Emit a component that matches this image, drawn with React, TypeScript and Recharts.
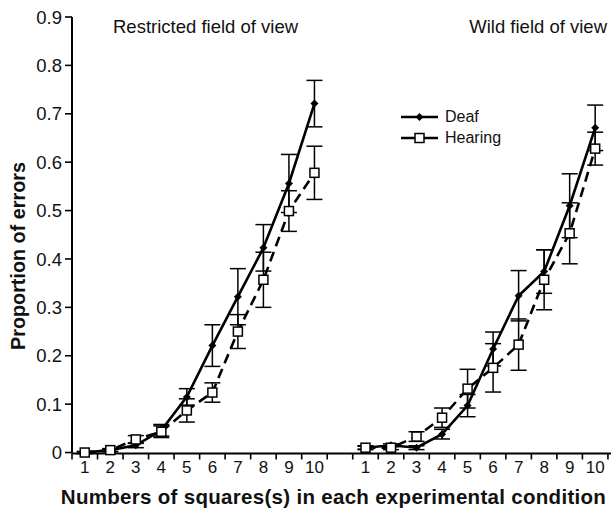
import React from "react";
import { LineChart, Line, XAxis, YAxis, ErrorBar } from "recharts";

// x positions on one shared axis: left panel 1-10, right panel 12-21
const restrictedX = [1, 2, 3, 4, 5, 6, 7, 8, 9, 10];
const wildX = [12, 13, 14, 15, 16, 17, 18, 19, 20, 21];
const squareLabels = ["1", "2", "3", "4", "5", "6", "7", "8", "9", "10"];

const restrictedDeaf = [0, 0.005, 0.015, 0.046, 0.115, 0.221, 0.322, 0.423, 0.556, 0.721];
const restrictedDeafErr = [0.002, 0.003, 0.005, 0.012, 0.017, 0.043, 0.058, 0.048, 0.06, 0.048];
const restrictedHearing = [0, 0.005, 0.027, 0.043, 0.087, 0.124, 0.25, 0.357, 0.499, 0.578];
const restrictedHearingErr = [0.002, 0.003, 0.008, 0.012, 0.024, 0.02, 0.035, 0.057, 0.042, 0.055];

const wildDeaf = [0.01, 0.015, 0.01, 0.038, 0.097, 0.214, 0.324, 0.374, 0.51, 0.671];
const wildDeafErr = [0.003, 0.003, 0.004, 0.01, 0.023, 0.035, 0.052, 0.045, 0.066, 0.047];
const wildHearing = [0.01, 0.01, 0.033, 0.072, 0.132, 0.175, 0.223, 0.357, 0.453, 0.628];
const wildHearingErr = [0.004, 0.004, 0.01, 0.02, 0.04, 0.05, 0.053, 0.062, 0.063, 0.034];

const yTicks = [0, 0.1, 0.2, 0.3, 0.4, 0.5, 0.6, 0.7, 0.8, 0.9];

const toRows = (xs: number[], ys: number[], errs: number[]) =>
  xs.map((x, i) => ({ x, y: ys[i], err: errs[i] }));

const labelAt: { [key: number]: string } = {};
restrictedX.forEach((x, i) => (labelAt[x] = squareLabels[i]));
wildX.forEach((x, i) => (labelAt[x] = squareLabels[i]));

// tick marks sit between the labels
const xTicks: number[] = [];
for (let v = 0.5; v <= 21.5; v += 0.5) xTicks.push(v);

const FONT = "'Liberation Sans', Arial, Helvetica, sans-serif";

const XTick = (props: any) => {
  const { x, y, payload } = props;
  const v = payload.value;
  if (Math.abs(v - Math.round(v)) > 0.1) {
    return <line x1={x} x2={x} y1={y - 8} y2={y - 2} stroke="#000" strokeWidth={1.6} />;
  }
  const text = labelAt[Math.round(v)];
  if (!text) return null;
  return (
    <text x={x} y={y} dy="0.68em" textAnchor="middle" fontSize={17} fontFamily={FONT} fill="#111">
      {text}
    </text>
  );
};

const Diamond = (props: any) => {
  const { cx, cy } = props;
  if (cx == null || cy == null) return null;
  return <path d={`M${cx},${cy - 4} L${cx + 4},${cy} L${cx},${cy + 4} L${cx - 4},${cy} Z`} fill="#000" />;
};

const Square = (props: any) => {
  const { cx, cy } = props;
  if (cx == null || cy == null) return null;
  return (
    <rect x={cx - 4.5} y={cy - 4.5} width={9} height={9} fill="#fff" stroke="#000" strokeWidth={1.5} />
  );
};

const App = () => {
  const series = [
    { key: "rd", data: toRows(restrictedX, restrictedDeaf, restrictedDeafErr), dashed: false },
    { key: "rh", data: toRows(restrictedX, restrictedHearing, restrictedHearingErr), dashed: true },
    { key: "wd", data: toRows(wildX, wildDeaf, wildDeafErr), dashed: false },
    { key: "wh", data: toRows(wildX, wildHearing, wildHearingErr), dashed: true },
  ];

  return (
    <div style={{ position: "absolute", left: 0, top: 0, width: 611, height: 513, fontFamily: FONT, background: "#fff" }}>
      <LineChart width={611} height={513} margin={{ top: 17, right: 0, bottom: 29.5, left: 0 }}>
        <XAxis
          type="number"
          dataKey="x"
          domain={[0.5, 21.62]}
          ticks={xTicks}
          interval={0}
          tick={<XTick />}
          tickLine={false}
          tickSize={6}
          tickMargin={2}
          height={30}
          axisLine={{ stroke: "#000", strokeWidth: 2 }}
          allowDataOverflow
        />
        <YAxis
          type="number"
          domain={[0, 0.9]}
          ticks={yTicks}
          interval={0}
          width={72}
          tickSize={7}
          tickMargin={3}
          tickFormatter={(v: number) => (v === 0 ? "0" : v.toFixed(1))}
          tick={{ fontSize: 18.5, fill: "#111", fontFamily: FONT }}
          tickLine={{ stroke: "#000", strokeWidth: 1.6 }}
          axisLine={{ stroke: "#000", strokeWidth: 2 }}
        />
        {series.map((s) => (
          <Line
            key={s.key}
            data={s.data}
            dataKey="y"
            stroke="#000"
            strokeWidth={2.6}
            strokeDasharray={s.dashed ? "10 6" : undefined}
            dot={s.dashed ? <Square /> : <Diamond />}
            activeDot={false}
            isAnimationActive={false}
          >
            <ErrorBar dataKey="err" width={8} stroke="#000" strokeWidth={1.5} />
          </Line>
        ))}
      </LineChart>

      <div style={{ position: "absolute", left: 113, top: 17, fontSize: 18.5, lineHeight: "20px", color: "#111" }}>
        Restricted field of view
      </div>
      <div style={{ position: "absolute", right: 4, top: 17, fontSize: 18.5, lineHeight: "20px", color: "#111" }}>
        Wild field of view
      </div>

      <div style={{ position: "absolute", left: 401, top: 106, fontSize: 16, lineHeight: "21px", color: "#111" }}>
        <div style={{ display: "flex", alignItems: "center" }}>
          <svg width={38} height={12} style={{ marginRight: 6 }}>
            <line x1={0} x2={37} y1={6} y2={6} stroke="#000" strokeWidth={2.6} />
            <path d="M18.5,2 L22.5,6 L18.5,10 L14.5,6 Z" fill="#000" />
          </svg>
          Deaf
        </div>
        <div style={{ display: "flex", alignItems: "center" }}>
          <svg width={38} height={12} style={{ marginRight: 6 }}>
            <line x1={0} x2={37} y1={6} y2={6} stroke="#000" strokeWidth={2.6} />
            <rect x={14} y={1.5} width={9} height={9} fill="#fff" stroke="#000" strokeWidth={1.5} />
          </svg>
          Hearing
        </div>
      </div>

      <div
        style={{
          position: "absolute",
          left: 17.5,
          top: 255.5,
          transform: "translate(-50%, -50%) rotate(-90deg)",
          whiteSpace: "nowrap",
          fontSize: 19.8,
          fontWeight: "bold",
          color: "#111",
        }}
      >
        Proportion of errors
      </div>
      <div
        style={{
          position: "absolute",
          left: 333.5,
          top: 497,
          transform: "translate(-50%, -50%)",
          whiteSpace: "nowrap",
          fontSize: 20.5,
          letterSpacing: 0.3,
          fontWeight: "bold",
          color: "#111",
        }}
      >
        Numbers of squares(s) in each experimental condition
      </div>
    </div>
  );
};

export default App;
